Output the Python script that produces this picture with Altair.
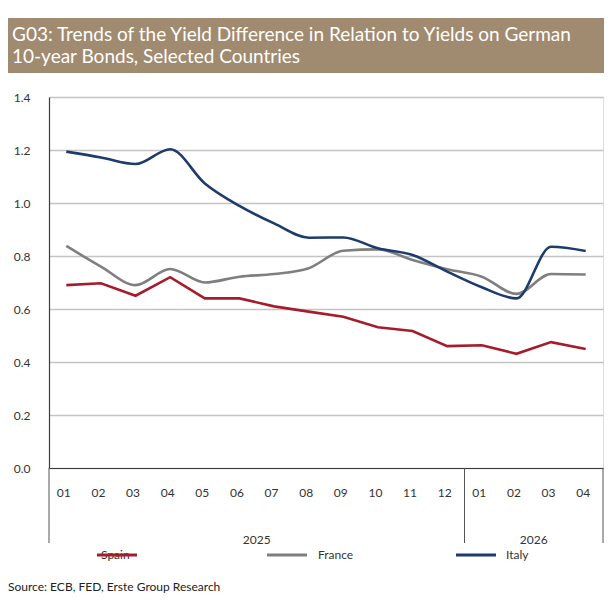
import json
import altair as alt
import pandas as pd

# ---------------- data ----------------
months = ["01", "02", "03", "04", "05", "06", "07", "08", "09", "10", "11", "12",
          "01", "02", "03", "04"]
years = ["2025"] * 12 + ["2026"] * 4
spain = [0.690, 0.697, 0.650, 0.720, 0.640, 0.640, 0.610, 0.590, 0.571, 0.531,
         0.517, 0.460, 0.463, 0.431, 0.475, 0.449]
france = [0.838, 0.760, 0.690, 0.751, 0.700, 0.722, 0.732, 0.754, 0.820, 0.825,
          0.785, 0.750, 0.722, 0.657, 0.732, 0.730]
italy = [1.194, 1.172, 1.147, 1.203, 1.074, 0.989, 0.923, 0.869, 0.870, 0.829,
         0.804, 0.741, 0.682, 0.640, 0.835, 0.819]
series = ["Spain", "France", "Italy"]
colors = ["#a51d2d", "#7f7f7f", "#1d3b6c"]
y_ticks = [0.0, 0.2, 0.4, 0.6, 0.8, 1.0, 1.2, 1.4]
title_lines = ["G03: Trends of the Yield Difference in Relation to Yields on German",
               "10-year Bonds, Selected Countries"]
source_text = "Source: ECB, FED, Erste Group Research"

# ---------------- tables ----------------
rows = []
for name, vals in zip(series, [spain, france, italy]):
    for i, v in enumerate(vals):
        rows.append({"pos": i + 0.5, "series": name, "value": v})
df = pd.DataFrame(rows)

year_rows = []
bounds = [0]
for i in range(1, len(years)):
    if years[i] != years[i - 1]:
        bounds.append(i)
bounds.append(len(years))
for a, b in zip(bounds[:-1], bounds[1:]):
    year_rows.append({"year": years[a], "mid": (a + b) / 2})
df_years = pd.DataFrame(year_rows)
df_bounds = pd.DataFrame({"b": bounds})

# ---------------- layout ----------------
W, H = 554, 371
PL, PT, PR, PB = 41, 89, 1, 125
FONT = "Lato"
TXT = "#333333"
LEG_Y = H + 87
LEG_LINE_X = [48, 218, 407]      # legend key start (px from plot left)
LEG_TEXT_DX = [4, 51, 50]        # label start relative to key start
LEG_LEN = 40

xscale = alt.Scale(domain=[0, len(months)], nice=False, zero=False)
yscale = alt.Scale(domain=[0, 1.4], nice=False)

label_expr = json.dumps(months) + "[floor(datum.value)]"
x_axis = alt.Axis(values=[i + 0.5 for i in range(len(months))], labelExpr=label_expr,
                  title=None, grid=False, ticks=False, labelPadding=19,
                  labelOffset=-3,
                  labelFontSize=12, labelColor=TXT, labelFont=FONT,
                  domainColor="#3c3c3c", domainWidth=1.2)
y_axis = alt.Axis(values=y_ticks, format=".1f", title=None, grid=True,
                  gridColor="#c4c4c4", gridWidth=1.6, ticks=False, labelPadding=19,
                  labelFontSize=12, labelColor=TXT, labelFont=FONT,
                  domainColor="#3c3c3c", domainWidth=1.2)

color = alt.Color("series:N", sort=series,
                  scale=alt.Scale(domain=series, range=colors), legend=None)

base = alt.Chart(df)
enc = dict(x=alt.X("pos:Q", scale=xscale, axis=x_axis),
           y=alt.Y("value:Q", scale=yscale, axis=y_axis),
           color=color)
spain_line = base.transform_filter(alt.datum.series == "Spain").mark_line(
    strokeWidth=2.6, interpolate="linear").encode(**enc)
other_lines = base.transform_filter(alt.datum.series != "Spain").mark_line(
    strokeWidth=2.6, interpolate="monotone").encode(**enc)

one = pd.DataFrame({"k": [0]})
banner = alt.Chart(one).mark_rect(color="#a18b70").encode(
    x=alt.value(-PL), x2=alt.value(W + PR), y=alt.value(-79), y2=alt.value(-24))
title1 = alt.Chart(one).mark_text(align="left", baseline="middle", font=FONT,
                                  fontSize=19, color="white").encode(
    x=alt.value(-37), y=alt.value(-62), text=alt.value(title_lines[0]))
title2 = alt.Chart(one).mark_text(align="left", baseline="middle", font=FONT,
                                  fontSize=19, color="white").encode(
    x=alt.value(-37), y=alt.value(-40), text=alt.value(title_lines[1]))

seps = alt.Chart(df_bounds).mark_rule(color="#555555", strokeWidth=1).encode(
    x=alt.X("b:Q", scale=xscale, axis=x_axis), y=alt.value(H), y2=alt.value(H + 75))
year_text = alt.Chart(df_years).mark_text(baseline="middle", fontSize=12, font=FONT,
                                          color=TXT).encode(
    x=alt.X("mid:Q", scale=xscale, axis=x_axis), y=alt.value(H + 72), text="year:N")
source = alt.Chart(one).mark_text(align="left", baseline="alphabetic", fontSize=12,
                                  font=FONT, color="#222222").encode(
    x=alt.value(-PL), y=alt.value(H + 123), text=alt.value(source_text))

legend_layers = []
for name, col, lx, dx in zip(series, colors, LEG_LINE_X, LEG_TEXT_DX):
    leg_df = pd.DataFrame({"series": [name]})
    legend_layers.append(
        alt.Chart(leg_df).mark_text(align="left", baseline="middle", fontSize=12,
                                    font=FONT, color=TXT).encode(
            x=alt.value(lx + dx), y=alt.value(LEG_Y), text="series:N"))
    legend_layers.append(
        alt.Chart(leg_df).mark_rule(strokeWidth=3, color=col).encode(
            x=alt.value(lx), x2=alt.value(lx + LEG_LEN), y=alt.value(LEG_Y)))

chart = alt.layer(other_lines, spain_line, banner, title1, title2, seps, year_text,
                  source, *legend_layers).properties(
    width=W, height=H,
    autosize=alt.AutoSizeParams(type="none"),
    padding={"left": PL, "top": PT, "right": PR, "bottom": PB},
).configure_view(stroke="#3c3c3c", strokeWidth=1.2).configure(background="white")

chart.save("out.html", embed_options={"renderer": "svg", "actions": False})
